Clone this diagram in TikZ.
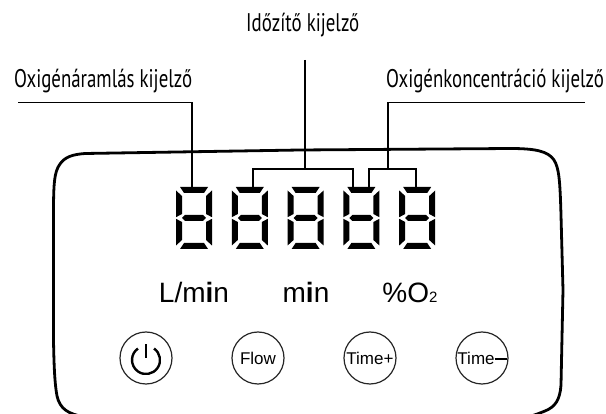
\documentclass[tikz,border=0pt]{standalone}
\usepackage{fontspec}
\setmainfont{Liberation Sans}
\newfontfamily\captionfont[FakeStretch=0.74]{PT Sans}
\usetikzlibrary{positioning}

\tikzset{
  caption/.style={font=\captionfont\fontsize{25.5}{25.5}\selectfont,inner sep=0pt,anchor=base west},
  unit/.style={font=\fontsize{28}{28}\selectfont,inner sep=0pt,anchor=base},
  button/.style={circle,draw=black!85,line width=1.2pt,minimum size=52pt,inner sep=0pt},
  btntext/.style={font=\fontsize{17}{17}\selectfont},
  digitbox/.style={minimum width=36pt,minimum height=62pt,inner sep=0pt},
  digit/.pic={
    \fill (-14,-31) -- (14,-31) -- (10,-25) -- (-10,-25) -- cycle;
    \fill (14,31) -- (-14,31) -- (-10,25) -- (10,25) -- cycle;
    \fill (-12,0) -- (-9,-3) -- (9,-3) -- (12,0) -- (9,3) -- (-9,3) -- cycle;
    \foreach \sx in {-1,1} {
      \fill (\sx*18,-27.5) -- (\sx*12,-22) -- (\sx*12,-4) -- (\sx*18,-0.8) -- cycle;
      \fill (\sx*18,0.8) -- (\sx*12,4) -- (\sx*12,22) -- (\sx*18,27.5) -- cycle;
    }
  }
}

\begin{document}
\begin{tikzpicture}[x=1pt,y=-1pt]
  \useasboundingbox (0,0) rectangle (606,414);

  % panel outline
  \draw[line width=2.8pt] (53.5,215) .. controls (53.5,185) and (54,172) .. (60,164)
    .. controls (65,157) and (72,154.5) .. (85,153.5)
    -- (300,150) -- (510,148.5)
    .. controls (535,148.5) and (548,151) .. (554,160)
    .. controls (559,168) and (560,180) .. (561,215)
    -- (563,290) -- (561,385)
    .. controls (560,400) and (555,407) .. (545,411)
    .. controls (540,413) and (535,415) .. (528,417)
    -- (85,417)
    .. controls (68,414) and (60,409) .. (57,396)
    .. controls (55,385) and (54,370) .. (53.5,340) -- cycle;

  % digits
  \begin{scope}[node distance=55.8pt]
    \node (d1) [digitbox] at (194,218) {};
    \node (d2) [digitbox,right of= d1] {};
    \node (d3) [digitbox,right of= d2] {};
    \node (d4) [digitbox,right of= d3] {};
    \node (d5) [digitbox,right of= d4] {};
  \end{scope}
  \foreach \d in {d1,d2,d3,d4,d5}
    \pic at (\d) {digit};

  % captions
  \node (flowcap) [caption] at (14,88) {Oxigénáramlás kijelző};
  \node (timercap) [caption] at (246,32) {Időzítő kijelző};
  \node (conccap) [caption] at (386,88) {Oxigénkoncentráció kijelző};

  % units
  \node (lmin) [unit] at (194,303) {L/m{\bfseries i}n};
  \node (minute) [unit] at (306,303) {m{\bfseries i}n};
  \node (pct) [unit] at (410,303) {\%O{\fontsize{15}{15}\selectfont 2}};

  % buttons
  \begin{scope}[node distance=112pt]
    \node (power) [button] at (146,358) {};
    \node (flow) [button,btntext,right of= power] {Flow};
    \node (timeup) [button,btntext,right of= flow] {Time+};
    \node (timedown) [button,btntext,right of= timeup] {Time\rule[0.22em]{0.7em}{2.6pt}};
  \end{scope}
  \draw[line width=2.4pt] (power.center) ++(0,2) ++(55:14pt) arc[start angle=55,end angle=-235,radius=14pt];
  \draw[line width=2.8pt] (power.center) -- ++(0,-14);

  % connectors
  \coordinate (flowend) at (18,102.5);
  \coordinate (timerend) at (305,60);
  \coordinate (timerjoin) at (305,169);
  \coordinate (concend) at (585,102.5);
  \coordinate (concjoin) at (388,169);
  \draw[line width=1.8pt] (flowend) -| ([xshift=-2pt]d1.north);
  \draw[line width=2.8pt] (timerend) -- (timerjoin);
  \draw[line width=2.8pt] ([xshift=3.2pt]d2.north) |- (timerjoin) -| ([xshift=-8.4pt]d4.north);
  \draw[line width=2.8pt] ([xshift=7.6pt]d4.north) |- (concjoin) -| ([xshift=-1.2pt]d5.north);
  \draw[line width=1.5pt] (concjoin) |- (concend);
\end{tikzpicture}
\end{document}
